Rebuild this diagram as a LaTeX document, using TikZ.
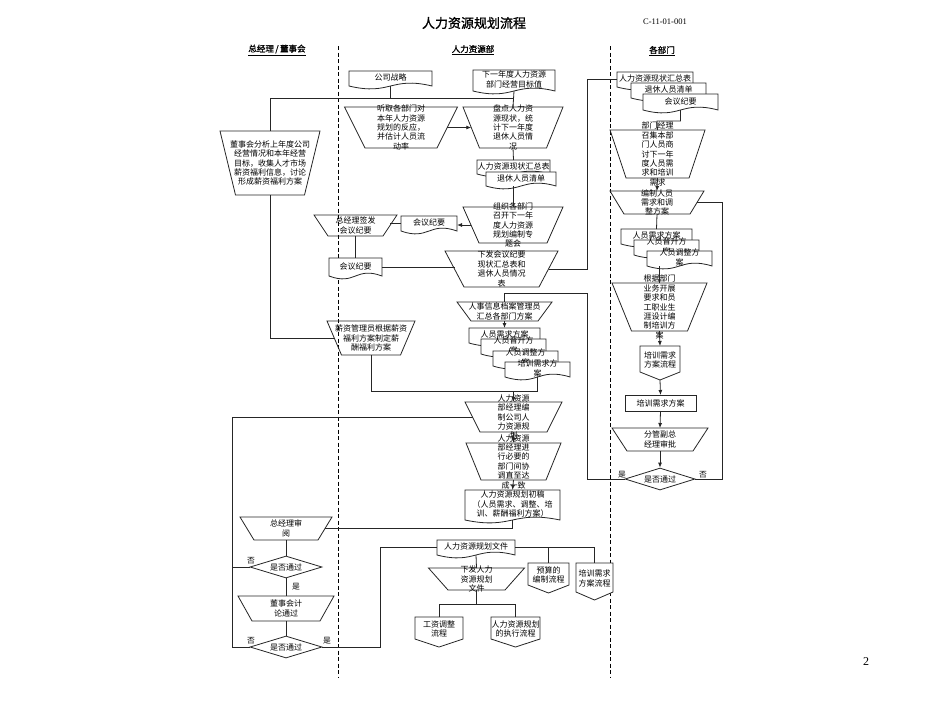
\documentclass[tikz,border=0pt]{standalone}
\usepackage{fontspec}
\setmainfont{Noto Sans CJK SC}
\newfontfamily\cjkb[FakeBold=1.2]{Noto Sans CJK SC}
\newfontfamily\latin{Liberation Serif}
\usetikzlibrary{shapes.geometric,calc,arrows.meta}
\tikzset{
 ln/.style={draw=black!85, line width=0.8pt},
 arr/.style={ln, -{Latex[length=5pt,width=4pt]}},
 shp/.style={draw=black!85, line width=0.8pt},
 tbox/.style={rectangle, draw=none, inner sep=0, outer sep=0},
 txt/.style={font=\fontsize{8}{9.4}\selectfont, align=center, inner sep=0},
 lbl/.style={font=\fontsize{7.8}{9}\selectfont, inner sep=0},
 dia/.style={diamond, draw=black!85, line width=0.8pt, inner sep=0, aspect=3.2, minimum width=72pt, minimum height=22pt, font=\fontsize{8}{9}\selectfont},
 lane/.style={draw=black, line width=0.8pt, dash pattern=on 4pt off 2.5pt},
 hdr/.style={font=\cjkb\fontsize{8.5}{10}\selectfont, inner sep=0},
}
\newcommand\mktrap[7]{%
 \node[tbox, minimum width=#4pt, minimum height=#6pt] (#1) at (#2,#3) {};
 \draw[shp] ({#2-#4/2},{#3-#6/2}) -- ({#2+#4/2},{#3-#6/2}) -- ({#2+#5/2},{#3+#6/2}) -- ({#2-#5/2},{#3+#6/2}) -- cycle;
 \coordinate (#1-l) at ({#2-(#4+#5)/4},#3);
 \coordinate (#1-r) at ({#2+(#4+#5)/4},#3);
 \node[txt] (#1-t) at (#1.center) {#7};
}
\newcommand\mkdoc[6]{%
 \node[tbox, minimum width=#4pt, minimum height=#5pt] (#1) at (#2,#3) {};
 \draw[shp, fill=white] (#1.south west) -- (#1.north west) -- (#1.north east) -- (#1.south east) .. controls +({-#4/2},-10) and +({#4/2},10) .. (#1.south west) -- cycle;
 \node[txt] (#1-t) at ($(#1.center)+(0,-1)$) {#6};
}
\newcommand\mkoff[6]{%
 \node[tbox, minimum width=#4pt, minimum height=#5pt] (#1) at (#2,#3) {};
 \draw[shp, fill=white] (#1.north west) -- (#1.north east) -- ($(#1.south east)+(0,-8)$) -- (#1.south) -- ($(#1.south west)+(0,-8)$) -- cycle;
 \node[txt] (#1-t) at ($(#1.center)+(0,-3)$) {#6};
}
\begin{document}
\begin{tikzpicture}[x=1pt,y=-1pt]
\useasboundingbox (0,0) rectangle (950,713);
\fill[white] (0,0) rectangle (950,713);
% title & headers
\node[font=\cjkb\fontsize{13}{15}\selectfont, inner sep=0] (title) at (474,23) {人力资源规划流程};
\node[font=\latin\fontsize{8.5}{10}\selectfont, inner sep=0] (code) at (665,22) {C-11-01-001};
\node[font=\latin\fontsize{12}{14}\selectfont, inner sep=0] (pgno) at (866,662) {2};
\node[hdr] (h1) at (277,50) {\underline{总经理\,/\,董事会}};
\node[hdr] (h2) at (473,50) {\underline{人力资源部}};
\node[hdr] (h3) at (662,51) {\underline{各部门}};
% lanes
\coordinate (la1) at (338,46); \coordinate (la2) at (338,677);
\coordinate (lb1) at (610,46); \coordinate (lb2) at (610,677);
\draw[lane] (la1) -- (la2);
\draw[lane] (lb1) -- (lb2);
% helper coordinates
\coordinate (cR) at (587,0);
\coordinate (cL) at (232,0);
\coordinate (c380) at (380,0);
\coordinate (cRR) at (722,0);
\coordinate (bus) at (0,98);
\coordinate (b293) at (0,293);
\coordinate (b391) at (0,391);
\coordinate (b604) at (0,604);
\coordinate (k1) at (657,121);
% left column
\mktrap{T1}{270}{163}{100}{69}{64}{董事会分析上年度公司\\经营情况和本年经营\\目标，收集人才市场\\薪资福利信息，讨论\\形成薪资福利方案}
\mktrap{T5}{355.5}{225.5}{83}{55}{21}{总经理签发\\会议纪要}
\mkdoc{ld}{355.5}{267}{53}{18}{会议纪要}
\mktrap{T8}{371}{338}{88}{59}{34}{薪资管理员根据薪资\\福利方案制定薪\\酬福利方案}
\mktrap{T11}{286}{528.5}{92}{64}{23}{总经理审\\阅}
\node[dia] (D1) at (286,567) {是否通过};
\mktrap{T12}{286}{608.5}{96}{68}{25}{董事会计\\论通过}
\node[dia] (D2) at (286,647) {是否通过};
% middle column
\mkdoc{cs}{390.5}{78.5}{83}{15}{公司战略}
\mkdoc{tg}{514}{80.5}{82}{21}{下一年度人力资源\\部门经营目标值}
\mktrap{T2}{401}{127.5}{113}{72}{41}{听取各部门对\\本年人力资源\\规划的反应，\\并估计人员流\\动率}
\mktrap{T3}{513}{127.5}{100}{67}{41}{盘点人力资\\源现状，统\\计下一年度\\退休人员情\\况}
\mkdoc{ms1}{513.5}{167}{73}{14}{人力资源现状汇总表}
\mkdoc{ms2}{521}{179}{70}{14}{退休人员清单}
\mktrap{T4}{513}{225}{100}{68}{36}{组织各部门\\召开下一年\\度人力资源\\规划编制专\\题会}
\mkdoc{md}{429}{223.5}{56}{15}{会议纪要}
\mktrap{T6}{501.5}{269}{113}{75}{36}{下发会议纪要\\现状汇总表和\\退休人员情况\\表}
\mktrap{T7}{504.5}{311.5}{95}{67}{19}{人事信息档案管理员\\汇总各部门方案}
\mkdoc{ps1}{504.5}{335.5}{71}{15}{人员需求方案}
\mkdoc{ps2}{513.5}{346.5}{65}{15}{人员晋升方\\案}
\mkdoc{ps3}{525.5}{358.5}{65}{15}{人员调整方\\案}
\mkdoc{ps4}{537.5}{369.5}{65}{15}{培训需求方\\案}
\mktrap{T9}{513.5}{417}{97}{67}{30}{人力资源\\部经理编\\制公司人\\力资源规\\划}
\mktrap{T10}{513.5}{461.5}{95}{65}{37}{人力资源\\部经理进\\行必要的\\部门间协\\调直至达\\成一致}
\mkdoc{pd}{512.5}{505}{95}{30}{人力资源规划初稿\\（人员需求、调整、培\\训、薪酬福利方案）}
\mkdoc{fd}{476}{547.5}{78}{15}{人力资源规划文件}
\mktrap{T13}{476.5}{579}{96}{57}{22}{下发人力\\资源规划\\文件}
\mkoff{bo1}{548.5}{578}{41}{30}{预算的\\编制流程}
\mkoff{bo2}{594.5}{581.5}{37}{37}{培训需求\\方案流程}
\mkoff{bo3}{439}{632}{48}{30}{工资调整\\流程}
\mkoff{bo4}{515.5}{632}{49}{30}{人力资源规划\\的执行流程}
% right column
\mkdoc{rd1}{655}{79.5}{76}{15}{人力资源现状汇总表}
\mkdoc{rd2}{668.5}{90.5}{75}{15}{退休人员清单}
\mkdoc{rd3}{680.5}{102}{75}{16}{会议纪要}
\mktrap{R1}{657.5}{154}{95}{63}{48}{部门经理\\召集本部\\门人员商\\讨下一年\\度人员需\\求和培训\\需求}
\mktrap{R2}{657}{202.5}{94}{66}{23}{编制人员\\需求和调\\整方案}
\mkdoc{rs1}{656.5}{236.5}{71}{15}{人员需求方案}
\mkdoc{rs2}{666.5}{247.5}{65}{15}{人员晋升方\\案}
\mkdoc{rs3}{679.5}{258.5}{65}{15}{人员调整方\\案}
\mktrap{R3}{659.5}{307}{95}{56}{48}{根据部门\\业务开展\\要求和员\\工职业生\\涯设计编\\制培训方\\案}
\mkoff{ro}{660}{363}{40}{34}{培训需求\\方案流程}
\node[tbox, draw=black!85, line width=0.8pt, minimum width=71pt, minimum height=16pt, txt] (rr) at (660.5,403) {培训需求方案};
\mktrap{R4}{660}{439.5}{96}{66}{23}{分管副总\\经理审批}
\node[dia, minimum width=70pt] (D3) at (660,479) {是否通过};
% connectors: top bus
\draw[ln] (T1.north) |- (T3.north |- bus);
\draw[ln] (cs.south) -- (cs.south |- bus);
\draw[ln] (tg.south) -- (T3.north);
\draw[arr] (T2-r) -- (T2-r -| T3-l);
\draw[ln] (T3.south) -- (ms1.north);
\draw[ln] (T4.north) -- (T4.north |- ms2.south);
\draw[arr] (T4-l) -- (T4-l -| md.east);
\draw[ln] (md.west) -- (md.west -| T5-r);
\draw[ln] (T5.south) -- (ld.north);
\draw[ln] (ld.east) -- (ld.east -| T6-l);
\draw[ln] (T6-r) -| (cR |- rd1.west) -- (rd1.west);
% right column flow
\draw[ln] (rd3.south) |- (k1) -- (R1.north);
\draw[arr] (R1.south) -- (R2.north);
\draw[ln] (R2.south) -- (rs1.north);
\draw[ln] (R2-r) -| (cRR |- D3.east) -- (D3.east);
\draw[ln] (R3.north) -- (R3.north |- rs3.south);
\draw[arr] (R3.south) -- (ro.north);
\draw[arr] (ro.south) -- (rr.north);
\draw[arr] (rr.south) -- (R4.north);
\draw[arr] (R4.south) -- (D3.north);
\draw[ln] (D3.west) -| (cR |- b293) -| (T7.north);
\node[lbl] (y3) at (622,475) {是};
\node[lbl] (n3) at (703,475) {否};
% middle lower flow
\draw[arr] (T7.south) -- (ps1.north);
\draw[ln] (T1.south) |- (T8-l);
\draw[ln] (T8.south) |- (ps4.south |- b391) -- (ps4.south);
\draw[arr] (T9.north |- b391) -- (T9.north);
\draw[arr] (T9.south) -- (T10.north);
\draw[arr] (T10.south) -- (pd.north);
\draw[ln] (pd.south) |- (T11-r);
\draw[ln] (T11.south) -- (D1.north);
\draw[ln] (D1.south) -- (T12.north);
\draw[ln] (T12.south) -- (D2.north);
\draw[ln] (D1.west) -- (cL |- D1.west);
\draw[ln] (D2.west) -| (cL |- T9-l) -- (T9-l);
\draw[ln] (D2.east) -| (c380 |- fd.west) -- (fd.west);
\node[lbl] (n1) at (251,561) {否};
\node[lbl] (y1) at (296,587) {是};
\node[lbl] (n2) at (251,641) {否};
\node[lbl] (y2) at (327,641) {是};
% document distribution
\draw[ln] (fd.east) -| (bo2.north);
\draw[ln] (bo1.north |- fd.east) -- (bo1.north);
\draw[ln] (fd.south) -- (T13.north);
\draw[ln] (T13.south) -- (T13.south |- b604);
\draw[ln] (bo3.north) |- (bo4.north |- b604) -- (bo4.north);
\end{tikzpicture}
\end{document}
